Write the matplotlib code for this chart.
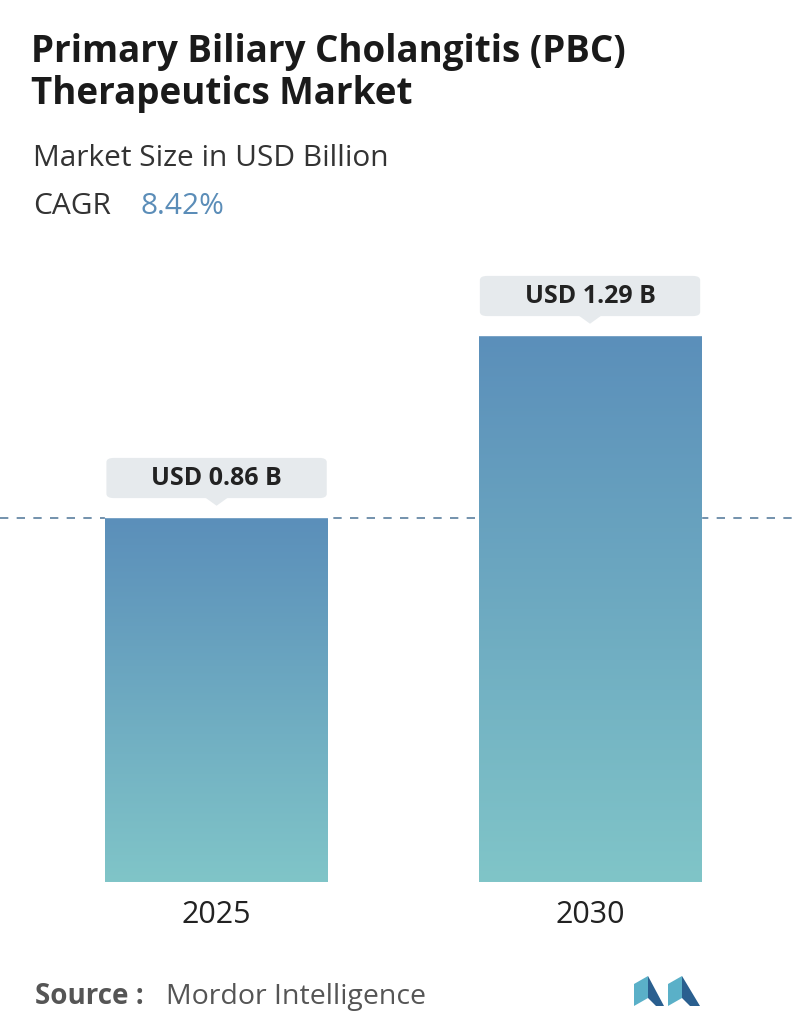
import matplotlib
matplotlib.use("Agg")
import matplotlib.pyplot as plt
import numpy as np
from matplotlib.patches import FancyBboxPatch, Polygon
from matplotlib.colors import LinearSegmentedColormap

years = ["2025", "2030"]
values = [0.86, 1.29]
labels = ["USD 0.86 B", "USD 1.29 B"]
title = "Primary Biliary Cholangitis (PBC)\nTherapeutics Market"
subtitle = "Market Size in USD Billion"
cagr = "8.42%"

W, H = 796, 1034
fig = plt.figure(figsize=(W/100, H/100), dpi=100)
fig.patch.set_facecolor("white")
plt.rcParams['font.family'] = ['Open Sans', 'DejaVu Sans']

def fx(px): return px / W
def fy(py): return 1 - py / H

fig.text(fx(31), fy(73), title, fontsize=26.5, fontweight='bold', color='#1a1a1a',
         va='center', ha='left', linespacing=1.15)
fig.text(fx(33), fy(158), subtitle, fontsize=21.5, color='#333333', va='center')
fig.text(fx(33), fy(207), "CAGR", fontsize=21.5, color='#333333', va='center')
fig.text(fx(140), fy(207), cagr, fontsize=21.5, color='#5b8db8', va='center')

bottom_px, top_px = 882, 250
ax = fig.add_axes([0, fy(bottom_px), 1, (bottom_px - top_px) / H])
ax.set_xlim(-0.580, 1.5516)
scale = 0.86 / 364
ax.axis('off')

grad = np.linspace(0, 1, 256).reshape(-1, 1)
cmap = LinearSegmentedColormap.from_list("g", ["#80c5c8", "#5b8fba"])
bw = 0.597
ax.axhline(values[0], color='#5b7f9e', ls=(0, (5, 5)), lw=1.2, zorder=1)
for i, v in enumerate(values):
    x0 = i - bw / 2
    ax.add_patch(plt.Rectangle((x0, 0), bw, v, color='white', zorder=2))
    ax.imshow(grad, extent=[x0, x0 + bw, 0, v], origin='lower', cmap=cmap,
              aspect='auto', zorder=3)
    by = v + 0.047
    ax.add_patch(plt.Rectangle((i - 0.3, v + 0.002), 0.6, 0.045, color='white', zorder=3.5))
    box = FancyBboxPatch((i - 0.295, by), 0.59, 0.095, boxstyle="round,pad=0,rounding_size=0.02",
                         mutation_aspect=0.5, fc='#e6eaed', ec='none', zorder=4)
    ax.add_patch(box)
    ax.add_patch(Polygon([[i - 0.03, by + 0.001], [i + 0.03, by + 0.001], [i, by - 0.018]],
                         closed=True, fc='#e6eaed', ec='none', zorder=4))
    ax.text(i, by + 0.0475, labels[i], ha='center', va='center', fontsize=18,
            fontweight='bold', color='#222222', zorder=5)
    fig.text(fx(216.5 + 373.5 * i), fy(915), years[i], ha='center', va='center',
             fontsize=22, color='#222222')
ax.set_ylim(0, scale * (bottom_px - top_px))

fig.text(fx(35), fy(997), "Source :", fontsize=20, fontweight='bold', color='#555555', va='center')
fig.text(fx(166), fy(997), "Mordor Intelligence", fontsize=20.5, color='#555555', va='center')

lax = fig.add_axes([fx(634), fy(1006), fx(66), 30 / H])
lax.set_xlim(0, 66); lax.set_ylim(0, 30); lax.axis('off')
lax.add_patch(Polygon([[0, 0], [0, 22], [14, 30], [14, 8]], fc='#5ab0c8'))
lax.add_patch(Polygon([[14, 8], [14, 30], [30, 0], [22, 0]], fc='#2a5f8f'))
lax.add_patch(Polygon([[34, 0], [34, 22], [48, 30], [48, 8]], fc='#5ab0c8'))
lax.add_patch(Polygon([[48, 8], [48, 30], [66, 0], [56, 0]], fc='#2a5f8f'))

fig.savefig("out.png", dpi=100)
